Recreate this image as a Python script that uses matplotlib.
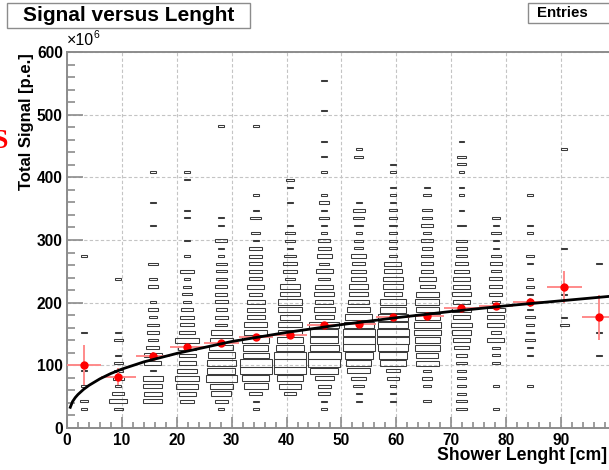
import numpy as np
import matplotlib
matplotlib.use("Agg")
import matplotlib.pyplot as plt
from matplotlib.patches import Rectangle

# ---------------- data ----------------
# x bins (shower length, cm): 16 bins of 6.25 cm
x_centers = [3.125, 9.375, 15.625, 21.875, 28.125, 34.375, 40.625, 46.875,
             53.125, 59.375, 65.625, 71.875, 78.125, 84.375, 90.625, 96.875]
x_bin_width = 6.25
# y bins (total signal, 1e6 p.e.): bin index k -> center = y_first + k * y_bin_width
y_first = 30.4
y_bin_width = 12.2

# cell contents per x bin  {y-bin index: entries}
col01 = {0: 1, 1: 2, 3: 1, 5: 1, 10: 1, 20: 1}
col02 = {0: 2, 1: 9, 2: 4, 3: 1, 4: 3, 5: 2, 6: 2, 7: 1, 9: 2, 10: 1, 17: 1}
col03 = {1: 10, 2: 9, 3: 10, 4: 11, 5: 1, 6: 8, 7: 9, 8: 5, 9: 3, 10: 4, 11: 4, 12: 2,
         13: 3, 14: 1, 16: 3, 17: 2, 19: 3, 24: 1, 27: 1, 31: 1}
col04 = {1: 6, 2: 8, 3: 14, 4: 16, 5: 11, 6: 8, 7: 8, 8: 9, 9: 15, 10: 7, 11: 6, 12: 5,
         13: 4, 14: 2, 15: 3, 16: 2, 17: 1, 18: 5, 20: 1, 22: 1, 25: 1, 26: 1, 30: 1, 31: 1}
col05 = {0: 1, 1: 5, 2: 11, 3: 14, 4: 27, 5: 22, 6: 24, 7: 20, 8: 16, 9: 14, 10: 12,
         11: 4, 12: 5, 13: 3, 14: 5, 15: 4, 16: 4, 17: 3, 18: 3, 19: 3, 20: 1, 21: 1,
         22: 4, 24: 1, 25: 1, 37: 1}
col06 = {0: 1, 1: 1, 2: 5, 3: 16, 4: 20, 5: 29, 6: 29, 7: 19, 8: 18, 9: 20, 10: 15,
         11: 15, 12: 9, 13: 9, 14: 9, 15: 5, 16: 8, 17: 5, 18: 5, 19: 5, 20: 5, 21: 5,
         22: 1, 23: 2, 25: 3, 26: 1, 28: 1, 37: 1}
col07 = {2: 4, 3: 14, 4: 19, 5: 28, 6: 29, 7: 28, 8: 22, 9: 20, 10: 15, 11: 15, 12: 12,
         13: 16, 14: 16, 15: 11, 16: 11, 17: 3, 18: 6, 19: 5, 20: 4, 21: 1, 22: 3, 23: 3,
         24: 1, 27: 1, 29: 1, 30: 2}
col08 = {0: 1, 1: 1, 2: 4, 3: 5, 4: 10, 5: 22, 6: 29, 7: 31, 8: 24, 9: 22, 10: 22,
         11: 25, 12: 10, 13: 13, 14: 9, 15: 11, 16: 9, 17: 4, 18: 8, 19: 3, 20: 6, 21: 5,
         22: 4, 23: 1, 24: 1, 25: 3, 26: 1, 27: 3, 28: 1, 31: 1, 33: 1, 35: 1, 39: 1, 43: 1}
col09 = {1: 1, 2: 1, 3: 3, 4: 7, 5: 14, 6: 17, 7: 22, 8: 29, 9: 29, 10: 29, 11: 25,
         12: 20, 13: 15, 14: 12, 15: 11, 16: 11, 17: 6, 18: 6, 19: 5, 20: 6, 21: 2, 22: 2,
         23: 1, 24: 2, 25: 3, 26: 4, 27: 1, 33: 2, 34: 1}
col10 = {1: 1, 2: 1, 3: 1, 4: 4, 5: 6, 6: 20, 7: 22, 8: 25, 9: 29, 10: 29, 11: 25,
         12: 25, 13: 20, 14: 20, 15: 9, 16: 11, 17: 11, 18: 9, 19: 8, 20: 2, 21: 2, 22: 2,
         23: 2, 24: 2, 25: 2, 26: 2, 27: 1, 28: 1, 29: 1, 31: 1, 32: 1}
col11 = {1: 2, 3: 2, 4: 3, 5: 2, 6: 15, 7: 14, 8: 18, 9: 18, 10: 20, 11: 20, 12: 18,
         13: 15, 14: 16, 15: 15, 16: 6, 17: 8, 18: 4, 19: 4, 20: 4, 21: 3, 22: 4, 23: 2,
         24: 4, 25: 3, 26: 3, 28: 2, 29: 1}
col12 = {0: 3, 1: 3, 2: 2, 3: 2, 4: 2, 5: 2, 6: 4, 7: 4, 8: 6, 9: 9, 10: 11, 11: 12,
         12: 9, 13: 11, 14: 9, 15: 11, 16: 9, 17: 9, 18: 7, 19: 5, 20: 4, 21: 4, 22: 3,
         24: 2, 26: 1, 28: 1, 29: 1, 31: 1, 32: 2, 33: 2, 35: 1}
col13 = {0: 1, 3: 1, 6: 2, 7: 2, 8: 2, 9: 8, 10: 3, 11: 8, 12: 8, 13: 9, 14: 2, 15: 5,
         16: 5, 17: 5, 18: 3, 19: 4, 20: 3, 21: 1, 22: 1, 23: 3, 24: 1, 25: 2}
col14 = {3: 1, 7: 1, 8: 1, 9: 3, 10: 2, 11: 2, 12: 3, 13: 1, 14: 1, 15: 1, 16: 2, 17: 1,
         19: 1, 20: 2, 23: 1, 24: 1, 28: 1}
col15 = {11: 2, 12: 1, 15: 1, 21: 1, 34: 1}
col16 = {7: 1, 10: 1, 19: 1}
columns = [col01, col02, col03, col04, col05, col06, col07, col08,
           col09, col10, col11, col12, col13, col14, col15, col16]
max_entries = 33

# profile (mean signal per length bin) and its errors
prof_y = [100.8, 82, 115, 128.5, 135.5, 145, 148.8, 164.8,
          166, 176.5, 179.2, 191.5, 195.2, 200.5, 225, 177]
prof_err = [32, 13, 7, 5, 4, 4, 3, 3, 3, 3, 3, 4, 5, 7, 25, 36]

# fitted curve
fit_x = [0.6, 1, 1.5, 2, 3, 4, 6, 8, 10, 14, 20, 30, 40, 50, 60, 70, 80, 90, 98.75]
fit_y = [33, 42, 48.5, 53.5, 61.5, 68, 78.5, 87, 94, 105.5, 119, 138, 152.5, 165,
         176, 186, 195, 203, 210]

x_ticks = [0, 10, 20, 30, 40, 50, 60, 70, 80, 90]
y_ticks = [0, 100, 200, 300, 400, 500, 600]

# ---------------- figure ----------------
W, H = 609, 470
fig = plt.figure(figsize=(W / 100, H / 100), dpi=100)
plt.rcParams['font.family'] = ['Liberation Sans', 'DejaVu Sans']

ax = fig.add_axes([67 / W, 42 / H, (W - 67) / W, 376 / H])
ax.set_xlim(0, 98.75)
ax.set_ylim(0, 600)

grey = '#8c8c8c'
for s in ['left', 'bottom', 'top']:
    ax.spines[s].set_color(grey)
    ax.spines[s].set_linewidth(1.4)
ax.spines['right'].set_visible(False)

ax.set_xticks(x_ticks)
ax.set_yticks(y_ticks)
ax.set_xticks(np.arange(0, 99, 2), minor=True)
ax.set_yticks(np.arange(0, 601, 20), minor=True)
ax.tick_params(axis='both', which='both', direction='in', color=grey, width=1.2,
               top=False, right=False)
ax.tick_params(axis='x', which='major', length=8, pad=3.5)
ax.tick_params(axis='x', which='minor', length=4)
ax.tick_params(axis='y', which='major', length=11.5, pad=3)
ax.tick_params(axis='y', which='minor', length=5.8)
for lab in ax.get_xticklabels() + ax.get_yticklabels():
    lab.set_fontweight('bold')
    lab.set_fontsize(11.2)

ax.grid(True, which='major', color='#c4c4c4', linestyle=(0, (3, 2)), linewidth=0.8)
ax.set_axisbelow(True)

# box histogram
for xc, col in zip(x_centers, columns):
    for k, n in col.items():
        yc = y_first + k * y_bin_width
        r = min(np.sqrt(n / max_entries), 0.97)
        w = r * x_bin_width
        h = r * y_bin_width
        ax.add_patch(Rectangle((xc - w / 2, yc - h / 2), w, h, fill=False,
                               edgecolor='#3c3c3c', linewidth=0.75, zorder=2))

# profile points
ax.errorbar(x_centers, prof_y, yerr=prof_err, xerr=x_bin_width / 2, fmt='o',
            color='#ff0000', ms=5, ecolor='#ff8a8a', elinewidth=1.4, capsize=0,
            zorder=4)
# fit
ax.plot(fit_x, fit_y, color='black', linewidth=2.0, zorder=5)

# ---------------- text ----------------
def fx(px):
    return px / W

def fy(py):
    return 1 - py / H

fig.text(fx(67), fy(45), '\u00d710', fontsize=11.5, ha='left', va='baseline')
fig.text(fx(94), fy(38), '6', fontsize=7.5, ha='left', va='baseline')

fig.text(fx(27), fy(53), 'Total Signal [p.e.]', rotation=90, ha='center', va='top',
         fontsize=12, fontweight='bold')
fig.text(fx(607), fy(455), 'Shower Lenght [cm]', ha='right', va='center',
         fontsize=12.7, fontweight='bold')

# title box
fig.patches.append(Rectangle((fx(7), fy(28)), (250 - 7) / W, 25 / H,
                             transform=fig.transFigure, facecolor='white',
                             edgecolor=grey, linewidth=1.0))
fig.text(fx(129), fy(15.5), 'Signal versus Lenght', ha='center', va='center',
         fontsize=15, fontweight='bold')

# stats box (clipped)
fig.patches.append(Rectangle((fx(528), fy(22.5)), 100 / W, 20 / H,
                             transform=fig.transFigure, facecolor='white',
                             edgecolor=grey, linewidth=1.0))
fig.text(fx(537), fy(13), 'Entries', ha='left', va='center', fontsize=10.8,
         fontweight='bold')

# stray red glyph at left edge
fig.text(fx(8), fy(142), 'S', ha='right', va='center', fontsize=20, color='red',
         fontweight='bold', family=['Liberation Serif', 'DejaVu Serif'])

fig.savefig('out.png', dpi=100)
